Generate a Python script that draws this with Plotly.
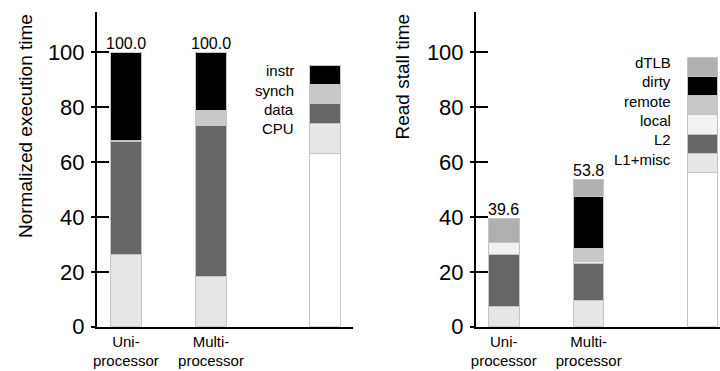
import plotly.graph_objects as go

# ---------------- data ----------------
# Left panel: normalized execution time
exec_categories = ["Uni-<br>processor", "Multi-<br>processor"]
exec_series = ["CPU", "data", "synch", "instr"]
exec_cpu = [26.2, 18.3]
exec_data = [41.3, 54.9]
exec_synch = [0.5, 5.6]
exec_instr = [32.0, 21.2]
exec_totals = [100.0, 100.0]
# key (legend drawn as a stacked bar): blank base then one block per series
exec_key_base = 63.3
exec_key = [10.9, 7.0, 7.0, 7.1]

# Right panel: read stall time
stall_categories = ["Uni-<br>processor", "Multi-<br>processor"]
stall_series = ["L1+misc", "L2", "local", "remote", "dirty", "dTLB"]
stall_l1 = [7.3, 9.5]
stall_l2 = [19.1, 13.4]
stall_local = [4.4, 0.8]
stall_remote = [0.0, 4.7]
stall_dirty = [0.0, 19.0]
stall_dtlb = [8.8, 6.4]
stall_totals = [39.6, 53.8]
stall_key_base = 56.2
stall_key = [6.9, 7.0, 7.1, 7.0, 7.1, 7.0]

y_tick_vals = [0, 20, 40, 60, 80, 100]

# ---------------- style / layout constants ----------------
W, H = 720, 371
POS = [1.0, 2.0, 3.34]          # x positions of Uni, Multi and the key bar
BAR_W = 0.36
OUTLINE = "#c4c4c4"
FONT = "Liberation Sans, Arial, Helvetica, sans-serif"
exec_colors = ["#e6e6e6", "#666666", "#c8c8c8", "#000000"]
stall_colors = ["#e6e6e6", "#666666", "#f2f2f2", "#c8c8c8", "#000000", "#b0b0b0"]
Y_RANGE = [0, 114.7]
Y_DOMAIN = [44.3 / H, 1 - 12 / H]

fig = go.Figure()


def nz(v):
    return None if v == 0 else v


def add_panel(xref, yref, series, values, key_base, key_vals, colors, totals):
    # blank base of the key bar
    fig.add_trace(go.Bar(
        x=POS, y=[None, None, key_base], xaxis=xref, yaxis=yref, width=BAR_W,
        marker=dict(color="white", line=dict(color=OUTLINE, width=1)),
        showlegend=False, hoverinfo="skip"))
    for name, vals, kv, col in zip(series, values, key_vals, colors):
        fig.add_trace(go.Bar(
            x=POS, y=[nz(v) for v in vals] + [kv], xaxis=xref, yaxis=yref,
            width=BAR_W, name=name,
            marker=dict(color=col, line=dict(color=OUTLINE, width=1)),
            showlegend=False))
    # key labels
    top = key_base
    for name, kv in zip(series, key_vals):
        top += kv
        fig.add_annotation(
            x=POS[2] - BAR_W / 2, y=top, xref=xref, yref=yref, text=name,
            showarrow=False, xanchor="right", yanchor="middle",
            xshift=-14, yshift=-5.5, font=dict(size=15, color="black"))
    # totals above the bars
    for p, t in zip(POS[:2], totals):
        fig.add_annotation(
            x=p, y=t, xref=xref, yref=yref, text=f"{t:.1f}", showarrow=False,
            xanchor="center", yanchor="bottom", yshift=-2,
            font=dict(size=16, color="black"))


add_panel("x", "y", exec_series, [exec_cpu, exec_data, exec_synch, exec_instr],
          exec_key_base, exec_key, exec_colors, exec_totals)
add_panel("x2", "y2", stall_series,
          [stall_l1, stall_l2, stall_local, stall_remote, stall_dirty, stall_dtlb],
          stall_key_base, stall_key, stall_colors, stall_totals)

# invisible traces for the overlay axes that carry the inner tick marks
fig.add_trace(go.Scatter(x=[], y=[], xaxis="x", yaxis="y3", showlegend=False))
fig.add_trace(go.Scatter(x=[], y=[], xaxis="x2", yaxis="y4", showlegend=False))

xcommon = dict(showline=True, linecolor="black", linewidth=2, ticks="",
               showgrid=False, zeroline=False, automargin=False,
               tickfont=dict(size=15, color="black"), ticklabelstandoff=0)
ycommon = dict(range=Y_RANGE, domain=Y_DOMAIN, showline=True, linecolor="black",
               linewidth=2, ticks="outside", ticklen=4, tickwidth=1.5,
               tickcolor="black", tickvals=y_tick_vals, showgrid=False,
               zeroline=False, automargin=False,
               tickfont=dict(size=22, color="black"), ticklabelstandoff=2)
yinner = dict(range=Y_RANGE, showline=False, ticks="inside", ticklen=12,
              tickwidth=1.5, tickcolor="black", tickvals=y_tick_vals,
              showticklabels=False, showgrid=False, zeroline=False,
              automargin=False, side="left")

fig.update_layout(
    width=W, height=H, margin=dict(l=0, r=0, t=0, b=0, autoexpand=False),
    paper_bgcolor="white", plot_bgcolor="white", barmode="stack",
    showlegend=False, font=dict(family=FONT, color="black"),
    xaxis=dict(domain=[97 / W, 353 / W], range=[0.66, 3.67], anchor="y",
               tickvals=POS[:2], ticktext=exec_categories, **xcommon),
    yaxis=dict(anchor="x", **ycommon),
    xaxis2=dict(domain=[476 / W, 1.0], range=[0.674, 3.545], anchor="y2",
                tickvals=POS[:2], ticktext=stall_categories, **xcommon),
    yaxis2=dict(anchor="x2", **ycommon),
    yaxis3=dict(overlaying="y", anchor="x", **yinner),
    yaxis4=dict(overlaying="y2", anchor="x2", **yinner),
)

fig.add_annotation(x=25 / W, y=1 - 12 / H, xref="paper", yref="paper",
                   text="Normalized execution time", textangle=-90,
                   showarrow=False, xanchor="center", yanchor="top",
                   font=dict(size=19, color="black"))
fig.add_annotation(x=401.5 / W, y=1 - 12 / H, xref="paper", yref="paper",
                   text="Read stall time", textangle=-90,
                   showarrow=False, xanchor="center", yanchor="top",
                   font=dict(size=19, color="black"))

fig.write_html(
    "out.html",
    config={"displayModeBar": False},
    post_script="document.body.style.margin='0px';document.body.style.overflow='hidden';",
)
